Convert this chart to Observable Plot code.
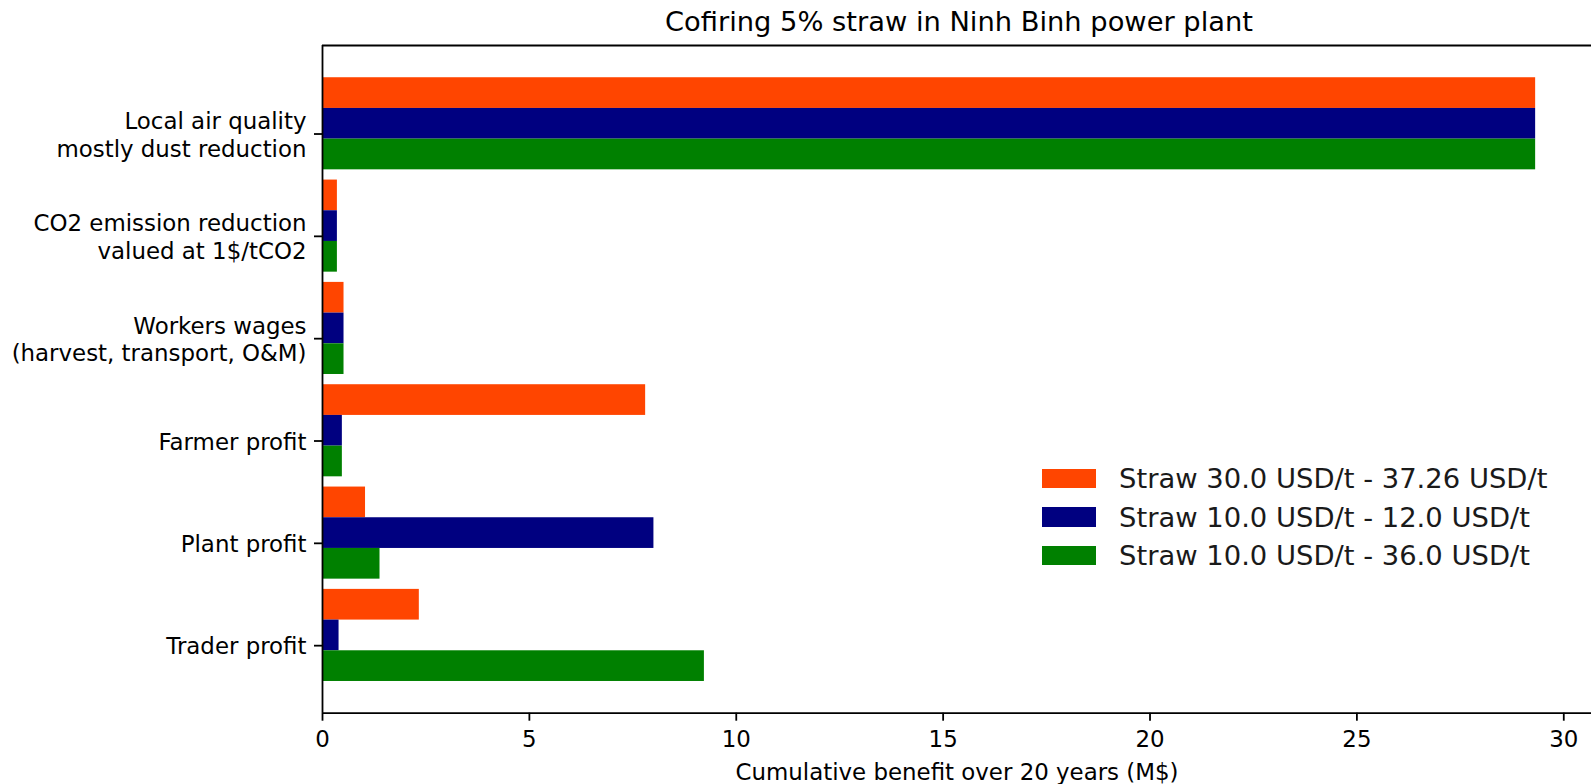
<!DOCTYPE html>
<html><head><meta charset="utf-8">
<script src="https://cdn.jsdelivr.net/npm/d3@7"></script>
<script src="https://cdn.jsdelivr.net/npm/@observablehq/plot@0.6"></script>
<style>
body{margin:0;background:#fff;font-family:"DejaVu Sans",sans-serif;}
#wrap{position:relative;width:1591px;height:784px;overflow:hidden;}
#wrap svg{position:absolute;left:0;top:0;}
#title{position:absolute;left:322px;width:1274px;top:5px;text-align:center;font-size:27.3px;line-height:34px;color:#000;white-space:nowrap;}
#legend{position:absolute;left:1042px;top:459px;}
.row{display:flex;align-items:center;height:38.7px;}
.sw{width:54px;height:19.4px;margin-right:23px;flex:none;}
.lt{font-size:27.4px;color:#1a1a1a;white-space:nowrap;}
</style></head><body>
<div id="wrap"></div>
<script>
// categories from top to bottom
const categories = [
  "Local air quality\nmostly dust reduction",
  "CO2 emission reduction\nvalued at 1$/tCO2",
  "Workers wages\n(harvest, transport, O&M)",
  "Farmer profit",
  "Plant profit",
  "Trader profit"
];
const seriesNames = [
  "Straw 30.0 USD/t - 37.26 USD/t",
  "Straw 10.0 USD/t - 12.0 USD/t",
  "Straw 10.0 USD/t - 36.0 USD/t"
];
const seriesColors = ["#ff4500", "#000080", "#008000"];
const orangeValues = [29.32, 0.36, 0.52, 7.81, 1.04, 2.34];
const navyValues   = [29.32, 0.36, 0.52, 0.48, 8.01, 0.40];
const greenValues  = [29.32, 0.36, 0.52, 0.48, 1.39, 9.23];
const xTicks = [0, 5, 10, 15, 20, 25, 30];
const titleText = "Cofiring 5% straw in Ninh Binh power plant";
const xLabel = "Cumulative benefit over 20 years (M$)";

// bar geometry (in category units, like matplotlib barh)
const barHeight = 0.3;
const seriesOffsets = [0.4, 0.1, -0.2];
const xMax = 30.67;
const yDomain = [-0.66, 5.865];

const seriesValues = [orangeValues, navyValues, greenValues];
const n = categories.length;
const data = categories.flatMap((c, i) => seriesNames.map((s, j) => ({
  category: c, series: s, value: seriesValues[j][i],
  pos: (n - 1 - i) + seriesOffsets[j]
})));
const tickPositions = categories.map((c, i) => n - 1 - i);

const W = 1591, H = 784;
const chart = Plot.plot({
  width: W, height: H,
  marginLeft: 322, marginRight: 0, marginTop: 45, marginBottom: 71.3,
  style: {fontFamily: "DejaVu Sans", fontSize: "22.9px", color: "#000", background: "transparent", overflow: "visible"},
  x: {domain: [0, xMax], label: null},
  y: {domain: yDomain, label: null},
  color: {domain: seriesNames, range: seriesColors},
  marks: [
    Plot.rectX(data, {x1: 0, x2: "value", y1: d => d.pos - barHeight / 2, y2: d => d.pos + barHeight / 2, fill: "series"}),
    Plot.axisY({ticks: tickPositions, tickFormat: v => categories[n - 1 - v], tickSize: 8, tickPadding: 8, fontSize: 22.9, lineHeight: 1.2, strokeWidth: 1.8, label: null}),
    Plot.axisX({ticks: xTicks, tickSize: 8, tickPadding: 10, strokeWidth: 1.8, fontSize: 22.9, label: xLabel, labelAnchor: "center", labelArrow: "none", labelOffset: 67}),
    Plot.ruleX([0], {stroke: "#000", strokeWidth: 1.8}),
    Plot.ruleY(yDomain, {stroke: "#000", strokeWidth: 1.8})
  ]
});

const wrap = document.getElementById("wrap");
wrap.appendChild(chart);
const t = document.createElement("div"); t.id = "title"; t.textContent = titleText; wrap.appendChild(t);
const lg = document.createElement("div"); lg.id = "legend";
seriesNames.forEach((s, i) => {
  const r = document.createElement("div"); r.className = "row";
  const sw = document.createElement("div"); sw.className = "sw"; sw.style.background = seriesColors[i];
  const lt = document.createElement("div"); lt.className = "lt"; lt.textContent = s;
  r.appendChild(sw); r.appendChild(lt); lg.appendChild(r);
});
wrap.appendChild(lg);
</script></body></html>
